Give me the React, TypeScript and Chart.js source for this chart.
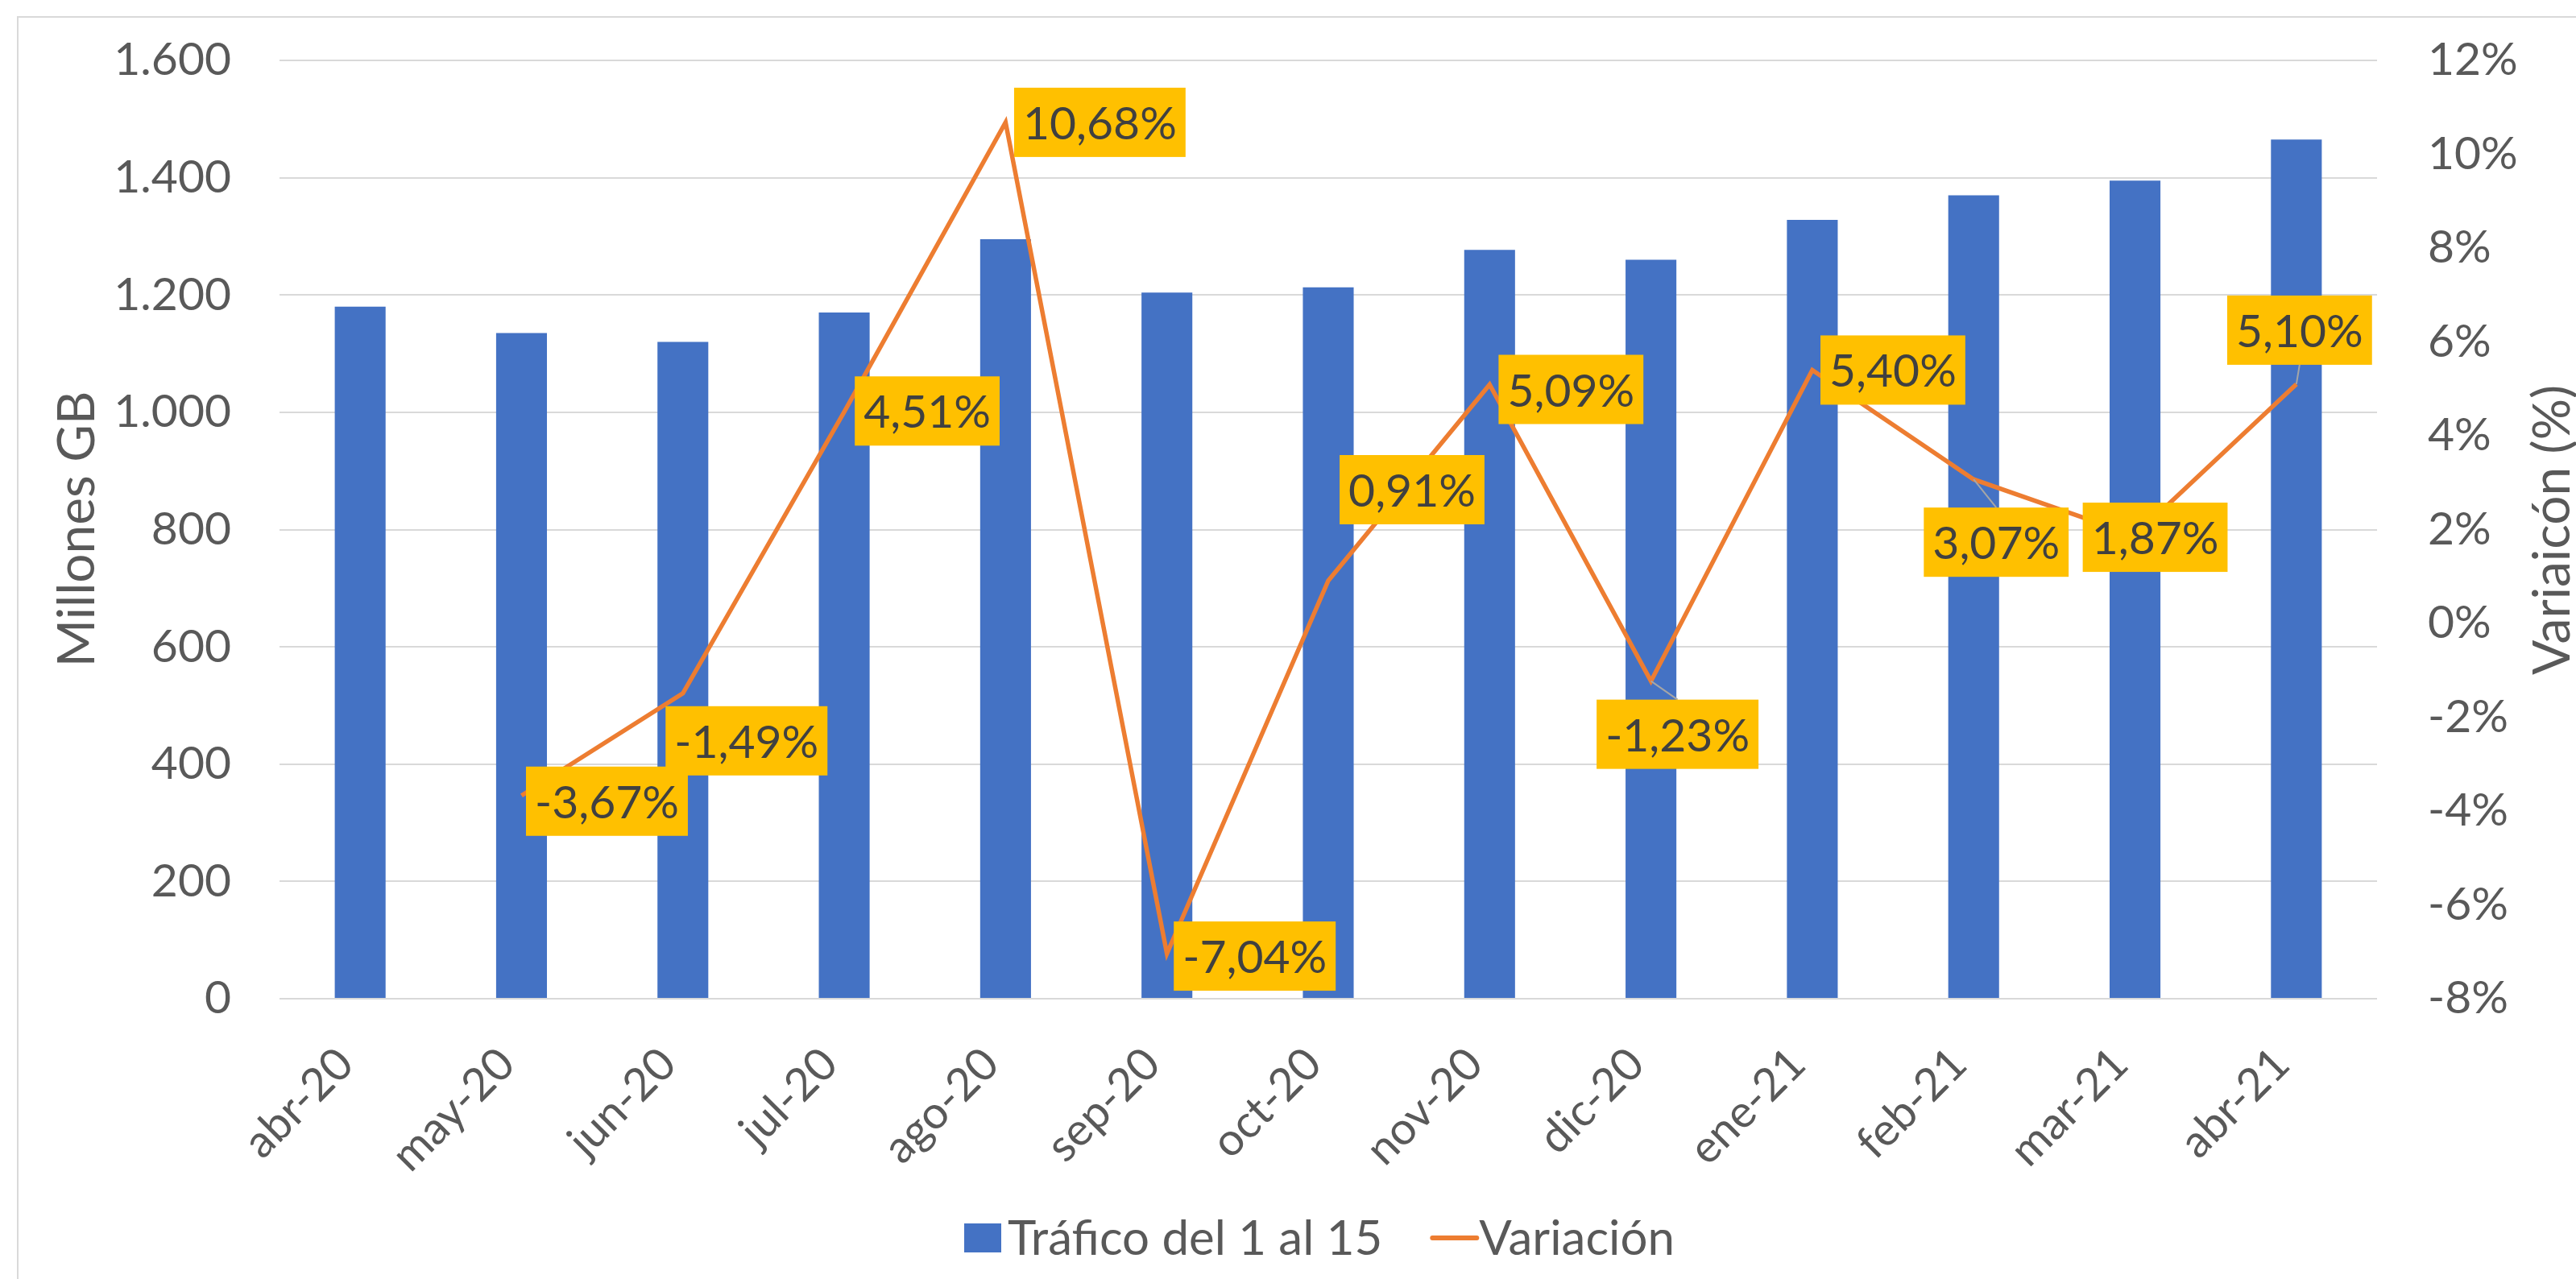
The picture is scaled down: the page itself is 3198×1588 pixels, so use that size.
import React, { useEffect, useRef } from "react";
import { Chart, registerables } from "chart.js";

Chart.register(...registerables);

// ---------- data ----------
const categories = [
  "abr-20", "may-20", "jun-20", "jul-20", "ago-20", "sep-20", "oct-20",
  "nov-20", "dic-20", "ene-21", "feb-21", "mar-21", "abr-21",
];
const trafficValues = [1180, 1135, 1120, 1170, 1295, 1204, 1213, 1277, 1260, 1328, 1370, 1395, 1465];
const variationValues: (number | null)[] = [null, -3.67, -1.49, 4.51, 10.68, -7.04, 0.91, 5.09, -1.23, 5.4, 3.07, 1.87, 5.1];
const seriesNames = ["Tráfico del 1 al 15", "Variación"];
const axisTitles = ["Millones GB", "Variaicón (%)"];
const leftAxisRange = [0, 1600, 200];
const rightAxisRange = [-8, 12, 2];

// ---------- label placement (layout, not data) ----------
const labelOffsets: [number, number][] = [
  [0, 0], [106, 7], [79, 59], [103, -1], [117, 0], [109, 3], [104, -113],
  [101, 6], [33, 66], [100, 0], [28, 78], [25, 2], [4, -67],
];
const labelLeaders = [false, false, false, false, false, false, false, false, true, false, true, false, true];

// ---------- styles ----------
const FONT = "Lato";
const BLUE = "#4472C4";
const ORANGE = "#ED7D31";
const LABEL_BG = "#FFC000";
const LABEL_TEXT = "#404040";
const AXIS_TEXT = "#595959";
const GRID = "#D9D9D9";

const W = 3198;
const H = 1588;
const AREA = { left: 347, right: 2951, top: 75, bottom: 1240 };

const fmtThousands = (v: number) => String(v).replace(/\B(?=(\d{3})+(?!\d))/g, ".");
const fmtPct = (v: number) => v.toFixed(2).replace(".", ",") + "%";

const decorPlugin = {
  id: "decor",
  beforeDraw(chart: any) {
    const ctx = chart.ctx;
    ctx.save();
    ctx.strokeStyle = GRID;
    ctx.lineWidth = 2;
    ctx.beginPath();
    ctx.moveTo(22, H);
    ctx.lineTo(22, 21);
    ctx.lineTo(W, 21);
    ctx.stroke();
    ctx.restore();
  },
  afterDatasetsDraw(chart: any) {
    const ctx = chart.ctx;
    const meta = chart.getDatasetMeta(1);
    ctx.save();
    ctx.font = `57px ${FONT}`;
    meta.data.forEach((pt: any, i: number) => {
      const v = variationValues[i];
      if (v == null) return;
      const text = fmtPct(v);
      const tw = ctx.measureText(text).width;
      const bw = tw + 22;
      const bh = 86;
      const cx = pt.x + labelOffsets[i][0];
      const cy = pt.y + labelOffsets[i][1];
      if (labelLeaders[i]) {
        ctx.strokeStyle = "#A6A6A6";
        ctx.lineWidth = 2;
        ctx.beginPath();
        ctx.moveTo(pt.x, pt.y);
        const ey = labelOffsets[i][1] > 0 ? cy - bh / 2 : cy + bh / 2;
        ctx.lineTo(cx, ey);
        ctx.stroke();
      }
      ctx.fillStyle = LABEL_BG;
      ctx.fillRect(cx - bw / 2, cy - bh / 2, bw, bh);
      ctx.fillStyle = LABEL_TEXT;
      ctx.textAlign = "center";
      ctx.textBaseline = "alphabetic";
      ctx.fillText(text, cx, cy + 21);
    });
    ctx.restore();
  },
  afterDraw(chart: any) {
    const ctx = chart.ctx;
    ctx.save();
    ctx.fillStyle = AXIS_TEXT;
    ctx.textAlign = "center";
    ctx.textBaseline = "alphabetic";
    // axis titles
    ctx.font = `64px ${FONT}`;
    ctx.save();
    ctx.translate(117, 657);
    ctx.rotate(-Math.PI / 2);
    ctx.fillText(axisTitles[0], 0, 0);
    ctx.restore();
    ctx.save();
    ctx.translate(3190, 658);
    ctx.rotate(-Math.PI / 2);
    ctx.fillText(axisTitles[1], 0, 0);
    ctx.restore();
    // legend
    ctx.font = `60px ${FONT}`;
    const base = 1558;
    const mid = 1537;
    let x = 1197;
    ctx.fillStyle = BLUE;
    ctx.fillRect(x, mid - 18, 46, 36);
    x += 54;
    ctx.fillStyle = AXIS_TEXT;
    ctx.textAlign = "left";
    ctx.fillText(seriesNames[0], x, base);
    x += ctx.measureText(seriesNames[0]).width + 62;
    ctx.strokeStyle = ORANGE;
    ctx.lineWidth = 6;
    ctx.lineCap = "round";
    ctx.beginPath();
    ctx.moveTo(x, mid);
    ctx.lineTo(x + 55, mid);
    ctx.stroke();
    x += 58;
    ctx.fillText(seriesNames[1], x, base);
    ctx.restore();
  },
};

export default function App() {
  const canvasRef = useRef<HTMLCanvasElement | null>(null);

  useEffect(() => {
    let chart: Chart | null = null;
    let cancelled = false;
    const build = () => {
      if (cancelled || !canvasRef.current) return;
      chart = new Chart(canvasRef.current, {
        type: "bar",
        data: {
          labels: categories,
          datasets: [
            {
              type: "bar",
              label: seriesNames[0],
              data: trafficValues,
              backgroundColor: BLUE,
              yAxisID: "y",
              categoryPercentage: 1,
              barPercentage: 0.315,
              order: 2,
            },
            {
              type: "line",
              label: seriesNames[1],
              data: variationValues as any,
              borderColor: ORANGE,
              backgroundColor: ORANGE,
              borderWidth: 5.5,
              pointRadius: 0,
              tension: 0,
              yAxisID: "y1",
              order: 1,
            },
          ],
        },
        options: {
          responsive: false,
          animation: false,
          devicePixelRatio: 1,
          layout: { padding: { top: AREA.top, left: 0, right: 0, bottom: 0 } },
          plugins: { legend: { display: false }, tooltip: { enabled: false } },
          scales: {
            x: {
              grid: { display: false },
              border: { display: false },
              ticks: {
                color: AXIS_TEXT,
                font: { family: FONT, size: 56 },
                minRotation: 45,
                maxRotation: 45,
                padding: 40,
                labelOffset: -18,
              },
              afterFit: (s: any) => {
                s.height = H - AREA.bottom;
              },
            },
            y: {
              position: "left",
              min: leftAxisRange[0],
              max: leftAxisRange[1],
              border: { display: false },
              grid: { color: GRID, lineWidth: 2, drawTicks: false },
              ticks: {
                stepSize: leftAxisRange[2],
                color: AXIS_TEXT,
                font: { family: FONT, size: 57 },
                padding: 60,
                callback: (v: any) => fmtThousands(Number(v)),
              },
              afterFit: (s: any) => {
                s.width = AREA.left;
                s.paddingTop = 30;
                s.paddingBottom = 30;
              },
            },
            y1: {
              position: "right",
              min: rightAxisRange[0],
              max: rightAxisRange[1],
              border: { display: false },
              grid: { display: false, drawTicks: false },
              ticks: {
                stepSize: rightAxisRange[2],
                color: AXIS_TEXT,
                font: { family: FONT, size: 57 },
                padding: 63,
                callback: (v: any) => `${v}%`,
              },
              afterFit: (s: any) => {
                s.width = W - AREA.right;
                s.paddingTop = 30;
                s.paddingBottom = 30;
              },
            },
          },
        },
        plugins: [decorPlugin],
      });
    };
    const fonts: any = (document as any).fonts;
    if (fonts && fonts.load) {
      Promise.all([fonts.load(`56px ${FONT}`), fonts.load(`64px ${FONT}`)])
        .catch(() => null)
        .then(build);
    } else {
      build();
    }
    return () => {
      cancelled = true;
      if (chart) chart.destroy();
    };
  }, []);

  return (
    <div style={{ position: "absolute", left: 0, top: 0, width: W, height: H, background: "#fff" }}>
      <canvas ref={canvasRef} width={W} height={H} style={{ width: W, height: H, display: "block" }} />
    </div>
  );
}
